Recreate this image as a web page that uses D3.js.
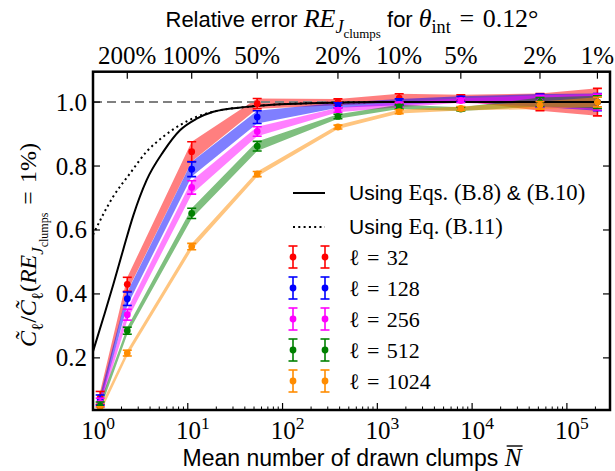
<!DOCTYPE html>
<html><head><meta charset="utf-8">
<script src="https://cdn.jsdelivr.net/npm/d3@7"></script>
<style>body{margin:0;background:#fff}svg{display:block}</style>
</head><body>
<svg id="c" width="615" height="471"></svg>
<script>
// ---- data ----
const reTickLabels = ["200%","100%","50%","20%","10%","5%","2%","1%"];
const reTickN = [2.3, 11, 54, 384, 1700, 7600, 52000, 210000];
const drawnN = [1.19, 2.3, 11, 54, 384, 1700, 7600, 52000, 210000];
const seriesNames = ["32","128","256","512","1024"];
const seriesColors = ["#ff0000","#0000ff","#ff00ff","#008000","#ff8c00"];
const val32   = [0.075, 0.430, 0.845, 0.995, 1.000, 1.012, 1.013, 1.000, 1.000];
const val128  = [0.068, 0.385, 0.790, 0.953, 0.990, 1.000, 1.010, 1.005, 1.000];
const val256  = [0.060, 0.335, 0.733, 0.908, 0.975, 0.992, 1.005, 1.003, 1.000];
const val512  = [0.050, 0.285, 0.652, 0.862, 0.955, 0.985, 0.978, 1.000, 1.000];
const val1024 = [0.037, 0.215, 0.548, 0.775, 0.922, 0.970, 0.980, 0.990, 1.000];
const err32   = [0.020, 0.022, 0.031, 0.016, 0.010, 0.014, 0.010, 0.027, 0.043];
const err128  = [0.016, 0.021, 0.023, 0.020, 0.008, 0.010, 0.008, 0.020, 0.027];
const err256  = [0.014, 0.017, 0.021, 0.015, 0.007, 0.008, 0.007, 0.018, 0.025];
const err512  = [0.012, 0.011, 0.016, 0.015, 0.007, 0.007, 0.006, 0.014, 0.020];
const err1024 = [0.010, 0.009, 0.010, 0.008, 0.006, 0.006, 0.006, 0.012, 0.015];
const solidN   = [1, 1.3, 1.64, 2.09, 2.66, 3.68, 5.52, 8.27, 12.4, 18.6, 41.8, 94, 316, 1000, 285000];
const solidV   = [0.22, 0.33, 0.43, 0.54, 0.645, 0.756, 0.845, 0.912, 0.948, 0.97, 0.985, 0.993, 0.998, 1.0, 1.0];
const dottedN  = [1, 1.63, 2.46, 3.68, 5.52, 8.27, 12.4, 18.6, 41.8, 94, 316, 1000, 285000];
const dottedV  = [0.585, 0.704, 0.777, 0.845, 0.892, 0.928, 0.954, 0.97, 0.985, 0.993, 0.998, 1.0, 1.0];
const yTicks = [0.2, 0.4, 0.6, 0.8, 1.0];
const xDecades = [1, 10, 100, 1000, 10000, 100000];

const vals = [val32, val128, val256, val512, val1024];
const errs = [err32, err128, err256, err512, err1024];

// ---- layout ----
const L = 93, R = 610, T = 71.7, B = 410;
const SERIF = "'Liberation Serif','DejaVu Serif',serif";
const SANS = "'Liberation Sans','DejaVu Sans',sans-serif";
const svg = d3.select("#c");
const x = d3.scaleLog().domain([1, 285000]).range([L, R]);
const y = d3.scaleLinear().domain([0.037, 1.095]).range([B, T]);

// rich text helper
function rich(parent, px, py, segs, size, anchor) {
  const t = parent.append("text").attr("x", px).attr("y", py)
    .attr("text-anchor", anchor || "start").attr("font-size", size);
  let cur = 0;
  const lv = {0: [1, 0], 1: [0.7, 0.28], 2: [0.5, 0.5], "-1": [0.7, -0.42]};
  segs.forEach(s => {
    const l = s.lvl || 0;
    const [sc, off] = lv[l];
    const target = off * size;
    t.append("tspan").text(s.t)
      .attr("font-family", s.f === "sans" ? SANS : SERIF)
      .attr("font-style", s.i ? "italic" : "normal")
      .attr("font-size", size * sc * (s.sz || 1))
      .attr("dy", target - cur);
    cur = target;
  });
  return t;
}

// clip
svg.append("clipPath").attr("id", "clip").append("rect")
  .attr("x", L).attr("y", T).attr("width", R - L).attr("height", B - T);
const plot = svg.append("g").attr("clip-path", "url(#clip)");

// bands
vals.forEach((v, k) => {
  const area = d3.area().x((d, i) => x(drawnN[i]))
    .y0((d, i) => y(v[i] - errs[k][i])).y1((d, i) => y(v[i] + errs[k][i]));
  plot.append("path").attr("d", area(v)).attr("fill", seriesColors[k]).attr("fill-opacity", 0.5);
});

// dashed reference line
plot.append("line").attr("x1", L).attr("x2", R).attr("y1", y(1)).attr("y2", y(1))
  .attr("stroke", "#808080").attr("stroke-width", 2).attr("stroke-dasharray", "9,5");

// curves
const lineGen = d3.line().curve(d3.curveMonotoneX);
plot.append("path").attr("d", lineGen(solidN.map((n, i) => [x(n), y(solidV[i])])))
  .attr("fill", "none").attr("stroke", "#000").attr("stroke-width", 2);
plot.append("path").attr("d", lineGen(dottedN.map((n, i) => [x(n), y(dottedV[i])])))
  .attr("fill", "none").attr("stroke", "#000").attr("stroke-width", 2).attr("stroke-dasharray", "2,3.3");

// errorbars
function errbar(g, cx, cy, ylo, yhi, col) {
  g.append("line").attr("x1", cx).attr("x2", cx).attr("y1", ylo).attr("y2", yhi)
    .attr("stroke", col).attr("stroke-width", 1.6);
  [ylo, yhi].forEach(yy => g.append("line").attr("x1", cx - 4.5).attr("x2", cx + 4.5)
    .attr("y1", yy).attr("y2", yy).attr("stroke", col).attr("stroke-width", 1.6));
  g.append("circle").attr("cx", cx).attr("cy", cy).attr("r", 3.4).attr("fill", col);
}
vals.forEach((v, k) => {
  v.forEach((d, i) => errbar(plot, x(drawnN[i]), y(d), y(d - errs[k][i]), y(d + errs[k][i]), seriesColors[k]));
});

// axes frame
const ax = svg.append("g").attr("stroke", "#000");
xDecades.forEach(n => ax.append("line").attr("x1", x(n)).attr("x2", x(n)).attr("y1", B).attr("y2", B - 7).attr("stroke-width", 1.2));
const minors = [];
for (let e = 0; e < 6; e++) for (let m = 2; m <= 9; m++) { const n = m * Math.pow(10, e); if (n < 285000) minors.push(n); }
minors.forEach(n => ax.append("line").attr("x1", x(n)).attr("x2", x(n)).attr("y1", B).attr("y2", B - 3.5).attr("stroke-width", 1));
reTickN.forEach(n => ax.append("line").attr("x1", x(n)).attr("x2", x(n)).attr("y1", T).attr("y2", T + 7).attr("stroke-width", 1.2));
yTicks.forEach(v => {
  ax.append("line").attr("x1", L).attr("x2", L + 7).attr("y1", y(v)).attr("y2", y(v)).attr("stroke-width", 1.2);
  ax.append("line").attr("x1", R).attr("x2", R - 7).attr("y1", y(v)).attr("y2", y(v)).attr("stroke-width", 1.2);
});
ax.append("rect").attr("x", L).attr("y", T).attr("width", R - L).attr("height", B - T)
  .attr("fill", "none").attr("stroke-width", 2.5);

// tick labels
const TS = 25;
xDecades.forEach((n, i) => {
  rich(svg, x(n) + 5, B + 29, [{t: "10"}, {t: String(i), lvl: -1}], TS, "middle");
});
yTicks.forEach(v => {
  svg.append("text").attr("x", L - 6).attr("y", y(v) + 8.5).attr("text-anchor", "end")
    .attr("font-family", SERIF).attr("font-size", TS).text(d3.format(".1f")(v));
});
reTickLabels.forEach((lab, i) => {
  svg.append("text").attr("x", x(reTickN[i])).attr("y", T - 8).attr("text-anchor", "middle")
    .attr("font-family", SERIF).attr("font-size", TS).text(lab);
});

// titles
rich(svg, 352, 27, [
  {t: "Relative error ", f: "sans"}, {t: "RE", i: true, sz: 1.18}, {t: "J", i: true, lvl: 1, sz: 1.18}, {t: "clumps", lvl: 2, sz: 1.18},
  {t: " for ", f: "sans"}, {t: "θ", i: true, sz: 1.18}, {t: "int", lvl: 1, sz: 1.18}, {t: "\u2004=\u20040.12°", sz: 1.18}
], 22, "middle");

const XLS = 23;
const xl = rich(svg, 352, 466, [
  {t: "Mean number of drawn clumps ", f: "sans"}, {t: "N", i: true, sz: 1.1}
], XLS, "middle");
(function(){
  const node = xl.node();
  const n = node.getNumberOfChars();
  const s = node.getStartPositionOfChar(n - 1), e = node.getEndPositionOfChar(n - 1);
  svg.append("line").attr("x1", s.x + 2).attr("x2", e.x + 1).attr("y1", 466 - 20).attr("y2", 466 - 20)
    .attr("stroke", "#000").attr("stroke-width", 1.4);
})();

const yl = svg.append("g").attr("transform", "translate(36,245) rotate(-90)");
rich(yl, 0, 0, [
  {t: "C\u0303", i: true}, {t: "ℓ", lvl: 1}, {t: "/"}, {t: "C\u0303", i: true}, {t: "ℓ", lvl: 1},
  {t: "("}, {t: "RE", i: true}, {t: "J", i: true, lvl: 1}, {t: "clumps", lvl: 2}, {t: "\u2004=\u20041%)"}
], 24, "middle");

// legend
const lg = svg.append("g");
const lx1 = 293, lx2 = 325, ltx = 349;
lg.append("line").attr("x1", lx1).attr("x2", lx2).attr("y1", 193).attr("y2", 193).attr("stroke", "#000").attr("stroke-width", 2);
lg.append("line").attr("x1", lx1).attr("x2", lx2).attr("y1", 227).attr("y2", 227).attr("stroke", "#000").attr("stroke-width", 2).attr("stroke-dasharray", "2,3.3");
rich(lg, ltx, 200, [{t: "Using ", f: "sans"}, {t: "Eqs. (B.8) ", sz: 1.08}, {t: "& ", f: "sans"}, {t: "(B.10)", sz: 1.08}], 21, "start");
rich(lg, ltx, 234, [{t: "Using ", f: "sans"}, {t: "Eq. (B.11)", sz: 1.08}], 21, "start");
seriesNames.forEach((nm, k) => {
  const ry = 257 + k * 31;
  [lx1, lx2].forEach(xx => errbar(lg, xx, ry, ry + 11, ry - 11, seriesColors[k]));
  rich(lg, ltx, ry + 8, [{t: "ℓ"}, {t: "\u2004=\u2004" + nm}], 22, "start");
});
</script>
</body></html>
